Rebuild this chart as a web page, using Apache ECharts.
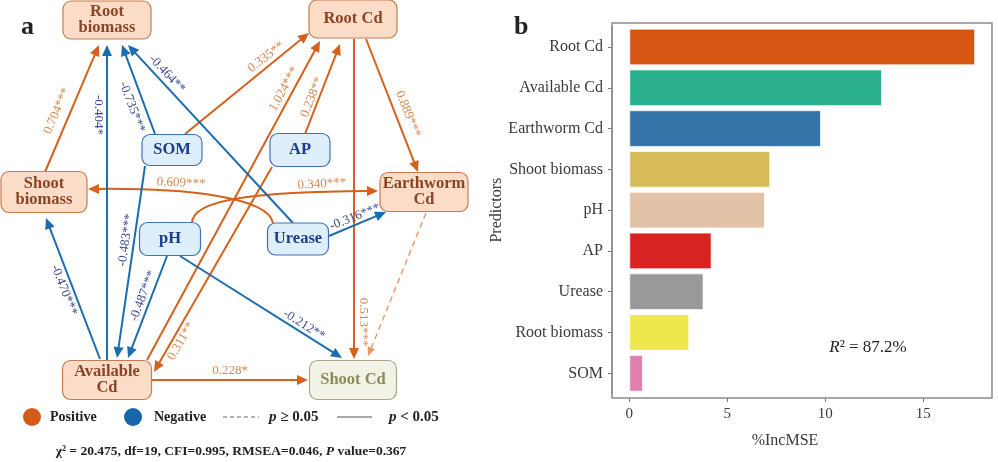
<!DOCTYPE html>
<html>
<head>
<meta charset="utf-8">
<script src="https://cdn.jsdelivr.net/npm/echarts@6/dist/echarts.min.js"></script>
<style>html,body{margin:0;padding:0;background:#fff}#c{width:998px;height:462px}</style>
</head>
<body>
<div id="c"></div>
<script>
// ---------------- Panel b data ----------------
const predictors = ['Root Cd','Available Cd','Earthworm Cd','Shoot biomass','pH','AP','Urease','Root biomass','SOM'];
const incMSE = [17.64, 12.89, 9.78, 7.19, 6.92, 4.20, 3.79, 3.06, 0.70];
const xTicks = [0, 5, 10, 15];
const r2Value = '87.2%';

// ---------------- Panel a data ----------------
const nodeNames  = ['Root biomass','Root Cd','Shoot biomass','Earthworm Cd','Available Cd','Shoot Cd','SOM','AP','pH','Urease'];
const nodeLabels = ['Root\nbiomass','Root Cd','Shoot\nbiomass','Earthworm\nCd','Available\nCd','Shoot Cd','SOM','AP','pH','Urease'];
const pathFrom = ['Shoot biomass','SOM','Available Cd','AP','Root Cd','Root Cd','Earthworm Cd','Available Cd','AP','Urease','pH',
                  'Available Cd','SOM','Urease','SOM','pH','Available Cd','Urease','pH'];
const pathTo   = ['Root biomass','Root Cd','Root Cd','Root Cd','Earthworm Cd','Shoot Cd','Shoot Cd','Shoot Cd','Available Cd','Shoot biomass','Earthworm Cd',
                  'Root biomass','Root biomass','Root biomass','Available Cd','Available Cd','Shoot biomass','Earthworm Cd','Shoot Cd'];
const pathCoef = [0.704, 0.335, 1.024, 0.238, 0.889, 0.513, null, 0.228, 0.311, 0.609, 0.340,
                  -0.404, -0.735, -0.464, -0.483, -0.487, -0.470, -0.316, -0.212];
const pathStars = ['***','**','***','**','***','***','','*','**','***','***',
                   '*','***','**','***','***','***','***','**'];
const pathSign = [1,1,1,1,1,1,1,1,1,1,1,-1,-1,-1,-1,-1,-1,-1,-1];
const pathSignificant = [true,true,true,true,true,true,false,true,true,true,true,true,true,true,true,true,true,true,true];
const fitStats = 'χ² = 20.475, df=19, CFI=0.995, RMSEA=0.046, ';
const fitP = '0.367';

// ---------------- Layout & styles (not data) ----------------
const nodeBox = { // cx, cy, w, h in layout units
  'Root biomass':[107,20,88,38], 'Root Cd':[353,19,88,38],
  'Shoot biomass':[44,192,86,41], 'Earthworm Cd':[424,192,88,39],
  'Available Cd':[107,380,89,39], 'Shoot Cd':[353,380,87,39],
  'SOM':[172,150,60,31], 'AP':[300,150,60,33], 'pH':[170,239,61,33], 'Urease':[298,239,61,32]
};
const nodeKind = {'Root biomass':'r','Root Cd':'r','Shoot biomass':'r','Earthworm Cd':'r','Available Cd':'r','Shoot Cd':'t',
                  'SOM':'p','AP':'p','pH':'p','Urease':'p'};
const nodeStyle = {
  r:{fill:'#FBDCC6', stroke:'#C77D51', text:'#8A4529'},
  t:{fill:'#F3F2E7', stroke:'#ABA687', text:'#8E8A5C'},
  p:{fill:'#DDEFFA', stroke:'#4172B8', text:'#1E3B8B'}
};
const edgeGeom = [
  [[45,172],[99,45]],
  [[185,134],[309,33]],
  [[147,360],[320,41]],
  [[305,134],[340,44]],
  [[366,39],[418,172]],
  [[354,39],[354,359]],
  [[426,213],[368,356]],
  [[152,380],[308,380]],
  [[272,167],[154,372]],
  [[273,223],[268,196],[180,188],[88,189]],
  [[192,223],[192,198],[262,192],[378,191]],
  [[107,360],[107,45]],
  [[155,134],[122,45]],
  [[293,223],[128,45]],
  [[145,166],[117,358]],
  [[167,256],[128,358]],
  [[100,359],[46,218]],
  [[329,236],[386,212]],
  [[180,256],[342,358]]
];
const edgeLabelPos = [
  [57,111,66.6],[266,57,37],[284,89,61],[312,97,68.5],[408,114,-68],[363,322,-90],null,[230,371,0],[181,341,60],
  [181,183,-3],[322,184,3],[98,115,-90],[132,107,-69.4],[167,74,-47],[126,240,81.7],[143,296,69],[64,290,-69],[355,217,21.6],[304,325,-32]
];
const ORANGE = '#D5611C', BLUE = '#1C6DB0', ORANGE_NS = '#E7996A';
const ORANGE_TXT = '#D9874F', BLUE_TXT = '#3D4995';
const barColors = ['#D55713','#2BB18E','#3474A8','#D9BC5A','#E2C3A7','#D72423','#999999','#EFE84D','#E57EB0'];
const SERIF = '"Liberation Serif","Times New Roman",serif';

function edgeRender(params, api) {
  const i = api.value(0);
  const g = edgeGeom[i].map(p => api.coord(p));
  const sig = pathSignificant[i];
  const color = pathSign[i] > 0 ? (sig ? ORANGE : ORANGE_NS) : BLUE;
  const dash = sig ? null : [6, 4];
  const lw = sig ? 2 : 1.4;
  const n = g.length;
  const end = g[n-1], prev = g[n-2];
  let dx = end[0]-prev[0], dy = end[1]-prev[1];
  const len = Math.hypot(dx, dy); dx /= len; dy /= len;
  const AL = sig ? 11 : 9, AW = sig ? 5 : 4;
  const base = [end[0]-dx*AL, end[1]-dy*AL];
  const children = [];
  if (n === 2) {
    children.push({type:'line', shape:{x1:g[0][0], y1:g[0][1], x2:base[0]+dx, y2:base[1]+dy},
      style:{stroke:color, lineWidth:lw, lineDash:dash}});
  } else {
    children.push({type:'bezierCurve', shape:{x1:g[0][0], y1:g[0][1], cpx1:g[1][0], cpy1:g[1][1], cpx2:g[2][0], cpy2:g[2][1], x2:base[0]+dx, y2:base[1]+dy},
      style:{stroke:color, fill:null, lineWidth:lw, lineDash:dash}});
  }
  children.push({type:'polygon', shape:{points:[end, [base[0]-dy*AW, base[1]+dx*AW], [base[0]+dy*AW, base[1]-dx*AW]]},
    style:{fill:color}});
  const lp = edgeLabelPos[i];
  if (lp && pathCoef[i] !== null) {
    const c = api.coord([lp[0], lp[1]]);
    children.push({type:'text', x:c[0], y:c[1], rotation: lp[2]*Math.PI/180,
      style:{text: pathCoef[i].toFixed(3) + pathStars[i], align:'center', verticalAlign:'middle',
        fill: pathSign[i] > 0 ? ORANGE_TXT : BLUE_TXT, fontSize:13, fontFamily:SERIF}});
  }
  return {type:'group', children};
}

function nodeRender(params, api) {
  const i = api.value(0);
  const name = nodeNames[i];
  const b = nodeBox[name];
  const tl = api.coord([b[0]-b[2]/2, b[1]-b[3]/2]);
  const br = api.coord([b[0]+b[2]/2, b[1]+b[3]/2]);
  const st = nodeStyle[nodeKind[name]];
  return {type:'group', children:[
    {type:'rect', shape:{x:tl[0], y:tl[1], width:br[0]-tl[0], height:br[1]-tl[1], r:8},
      style:{fill:st.fill, stroke:st.stroke, lineWidth:1.2}},
    {type:'text', x:(tl[0]+br[0])/2, y:(tl[1]+br[1])/2,
      style:{text:nodeLabels[i], align:'center', verticalAlign:'middle', fill:st.text,
        fontSize:16.5, fontWeight:'bold', fontFamily:SERIF, lineHeight:16}}
  ]};
}

const chart = echarts.init(document.getElementById('c'), null, {renderer:'canvas'});
const txt = (x, y, text, extra) => ({type:'text', x, y, silent:true,
  style:Object.assign({text, fill:'#222', fontFamily:SERIF, fontSize:14, fontWeight:'bold', verticalAlign:'middle'}, extra||{})});

chart.setOption({
  animation:false,
  grid:[
    {left:0, top:0, width:998, height:462, show:false},
    {left:612, top:26.6, width:380, height:367.1, show:false}
  ],
  xAxis:[
    {gridIndex:0, type:'value', min:0, max:998, show:false},
    {gridIndex:1, type:'value', min:-0.88, max:18.5, offset:4.3,
      axisLine:{show:false},
      axisTick:{show:true, customValues:xTicks, length:4, lineStyle:{color:'#777'}},
      axisLabel:{customValues:xTicks, margin:9, fontFamily:SERIF, fontSize:15, color:'#3a3a3a'},
      splitLine:{show:false},
      name:'%IncMSE', nameLocation:'middle', nameGap:35,
      nameTextStyle:{fontFamily:SERIF, fontSize:16, color:'#3a3a3a', padding:[0,34,0,0]}}
  ],
  yAxis:[
    {gridIndex:0, type:'value', min:0, max:462, inverse:true, show:false},
    {gridIndex:1, type:'category', data:predictors, inverse:true,
      axisLine:{show:true, onZero:false, lineStyle:{color:'#8c8c8c', width:1.5}},
      axisTick:{show:true, alignWithLabel:true, length:4, lineStyle:{color:'#777'}},
      axisLabel:{margin:9, fontFamily:SERIF, fontSize:16, color:'#3a3a3a'},
      name:'Predictors', nameLocation:'middle', nameRotate:90, nameGap:106,
      nameTextStyle:{fontFamily:SERIF, fontSize:16, color:'#3a3a3a'}}
  ],
  series:[
    {type:'custom', xAxisIndex:0, yAxisIndex:0, renderItem:edgeRender, clip:false, silent:true,
      data: pathCoef.map((c, i) => [i, 0]), encode:{x:0, y:1}, z:2},
    {type:'custom', xAxisIndex:0, yAxisIndex:0, renderItem:nodeRender, clip:false, silent:true,
      data: nodeNames.map((n, i) => [i, 0]), encode:{x:0, y:1}, z:3},
    {type:'bar', xAxisIndex:1, yAxisIndex:1, barCategoryGap:'10%', silent:true,
      itemStyle:{borderColor:'rgba(255,255,255,0.7)', borderWidth:1},
      data: incMSE.map((v, i) => ({value:v, itemStyle:{color:barColors[i]}}))}
  ],
  graphic:[
    {type:'rect', shape:{x:612, y:23, width:380, height:375}, style:{fill:null, stroke:'#8c8c8c', lineWidth:1.5}, silent:true, z:10},
    txt(21, 27, 'a', {fontSize:26}),
    txt(514, 27, 'b', {fontSize:26}),
    {type:'text', x:868, y:348, silent:true, style:{text:'{i|R}{n|² = ' + r2Value + '}', align:'center', verticalAlign:'middle',
      rich:{i:{fontFamily:SERIF, fontSize:17, fontStyle:'italic', fill:'#222'}, n:{fontFamily:SERIF, fontSize:17, fill:'#222'}}}},
    // legend of panel a
    {type:'circle', shape:{cx:32, cy:417, r:9}, style:{fill:'#D45C1A'}, silent:true},
    txt(50, 417, 'Positive'),
    {type:'circle', shape:{cx:133, cy:417, r:9}, style:{fill:'#1566AB'}, silent:true},
    txt(154, 417, 'Negative'),
    {type:'line', shape:{x1:223, y1:417, x2:259, y2:417}, style:{stroke:'#666', lineWidth:1, lineDash:[4,3]}, silent:true},
    {type:'text', x:269, y:417, silent:true, style:{text:'{i|p}{b| ≥ 0.05}', verticalAlign:'middle',
      rich:{i:{fontFamily:SERIF, fontSize:15, fontStyle:'italic', fontWeight:'bold', fill:'#222'}, b:{fontFamily:SERIF, fontSize:15, fontWeight:'bold', fill:'#222'}}}},
    {type:'line', shape:{x1:337, y1:417, x2:372, y2:417}, style:{stroke:'#555', lineWidth:1}, silent:true},
    {type:'text', x:389, y:417, silent:true, style:{text:'{i|p}{b| < 0.05}', verticalAlign:'middle',
      rich:{i:{fontFamily:SERIF, fontSize:15, fontStyle:'italic', fontWeight:'bold', fill:'#222'}, b:{fontFamily:SERIF, fontSize:15, fontWeight:'bold', fill:'#222'}}}},
    {type:'text', x:231, y:452, silent:true, style:{text:'{b|' + fitStats + '}{i|P}{b| value=' + fitP + '}', align:'center', verticalAlign:'middle',
      rich:{i:{fontFamily:SERIF, fontSize:13.5, fontStyle:'italic', fontWeight:'bold', fill:'#222'}, b:{fontFamily:SERIF, fontSize:13.5, fontWeight:'bold', fill:'#222'}}}}
  ]
});
</script>
</body>
</html>
